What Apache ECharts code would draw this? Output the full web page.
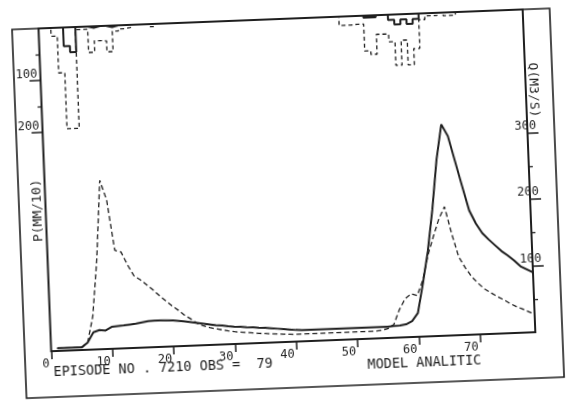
<!DOCTYPE html>
<html>
<head>
<meta charset="utf-8">
<script src="https://cdn.jsdelivr.net/npm/echarts@6/dist/echarts.min.js"></script>
<style>
html, body { margin: 0; padding: 0; background: #fff; overflow: hidden; width: 566px; height: 403px; }
#chart { width: 566px; height: 403px; transform: rotate(-2.25deg); transform-origin: 50% 50%; }
</style>
</head>
<body>
<div id="chart"></div>
<script>
// ---- data ----
// time steps t = 1..79
const qModel = [
  4, 4, 4, 4, 4, 11, 26, 29, 28, 33,
  34, 34.5, 35.5, 36.5, 38, 39.5, 40, 40, 39.5, 39,
  38, 37, 35.5, 34, 32.5, 31, 29.5, 28.5, 27, 26,
  25.5, 24.5, 24, 23, 22.5, 21.5, 20.5, 19.5, 18.5, 17.5,
  17, 17, 17, 17, 17, 17, 17, 17, 17, 17,
  17, 17, 17, 17, 17, 17.5, 18, 19.5, 24, 36,
  80, 128, 190, 265, 318, 300, 262, 224, 187, 167,
  152, 142, 133, 124, 117, 109, 100, 95, 90
];
const qObs = [
  4, 4, 4, 4, 4, 11, 50, 134, 254, 224,
  148, 145, 125, 108, 102, 94, 86, 77, 69, 61,
  54, 46, 40, 33, 29, 26, 24, 22, 20, 18.5,
  17.5, 16.5, 15.5, 14.5, 14, 13, 12.5, 12, 11.5, 11,
  11, 11, 11, 11, 11, 11, 11, 11, 11, 11,
  11, 11, 11, 12, 14, 20, 42, 58, 65, 62,
  85, 122, 150, 176, 194, 153, 118, 101, 87, 77,
  68, 62, 56, 51, 45, 40, 36, 31.5, 27
];
// precipitation per interval [i, i+1), i = 0..78
const pTotal = [
  0, 0, 16, 87, 195, 195, 5, 5, 50, 28,
  29, 50, 11, 7, 5, 0, 0, 0, 5, 0,
  0, 0, 0, 0, 0, 0, 0, 0, 0, 0,
  0, 0, 0, 0, 0, 0, 0, 0, 0, 0,
  0, 0, 0, 0, 0, 0, 0, 0, 0, 17,
  17, 16, 16, 68, 75, 37, 37, 52, 98, 50,
  98, 67, 12, 5, 5, 0, 6, 6, 0, 0,
  0, 0, 0, 0, 0, 0, 0, 0, 0
];
const pEff = [
  0, 0, 0, 0, 36, 48, 0, 0, 3, 0,
  0, 3, 0, 0, 0, 0, 0, 0, 0, 0,
  0, 0, 0, 0, 0, 0, 0, 0, 0, 0,
  0, 0, 0, 0, 0, 0, 0, 0, 0, 0,
  0, 0, 0, 0, 0, 0, 0, 0, 0, 0,
  0, 0, 0, 4, 4, 0, 0, 10, 19, 10,
  19, 10, 0, 0, 0, 0, 0, 0, 0, 0,
  0, 0, 0, 0, 0, 0, 0, 0, 0
];
const xTicks = [0, 10, 20, 30, 40, 50, 60, 70];
const pLabels = [100, 200];
const pMinor = [50, 150];
const qLabels = [100, 200, 300];
const qMinor = [50, 150, 250];
const pTitle = 'P(MM/10)';
const qTitle = 'Q(M3/S)';
const footLeft = 'EPISODE NO . 7210 OBS =  79';
const footRight = 'MODEL ANALITIC';

// ---- chart ----
const INK = '#1f1f1f';
const FONT = "'DejaVu Sans Mono', monospace";
const stepData = arr => arr.map((v, i) => [i, v]).concat([[arr.length, arr[arr.length - 1]]]);
const lineData = arr => arr.map((v, i) => [i + 1, v]);

const chart = echarts.init(document.getElementById('chart'));
const labelStyle = { color: INK, fontFamily: FONT, fontSize: 12 };
const noLine = { show: false, onZero: false };

chart.setOption({
  animation: false,
  backgroundColor: '#fff',
  grid: { left: 45.5, right: 36, top: 19, bottom: 61, show: true, borderColor: INK, borderWidth: 2, backgroundColor: 'transparent' },
  xAxis: {
    type: 'value', position: 'bottom', min: 0, max: 79, interval: 10,
    axisLine: noLine, splitLine: { show: false },
    axisTick: { customValues: xTicks, length: 8, lineStyle: { color: INK, width: 1.5 } },
    axisLabel: Object.assign({ customValues: xTicks, align: 'right', verticalAlign: 'middle', margin: 13, padding: [0, 2, 0, 0] }, labelStyle)
  },
  yAxis: [
    {
      type: 'value', position: 'left', inverse: true, min: 0, max: 621, interval: 50,
      axisLine: noLine, splitLine: { show: false },
      axisTick: { customValues: pLabels, length: 11, lineStyle: { color: INK, width: 1.5 } },
      axisLabel: Object.assign({ customValues: pLabels, margin: 3, verticalAlign: 'bottom', padding: [0, 0, 0, 0] }, labelStyle)
    },
    {
      type: 'value', position: 'left', inverse: true, min: 0, max: 621, interval: 50,
      axisLine: noLine, splitLine: { show: false },
      axisTick: { customValues: pMinor, length: 4, lineStyle: { color: INK, width: 1.3 } },
      axisLabel: { show: false }
    },
    {
      type: 'value', position: 'right', min: 0, max: 486, interval: 50,
      axisLine: noLine, splitLine: { show: false },
      axisTick: { customValues: qLabels, length: 11, lineStyle: { color: INK, width: 1.5 } },
      axisLabel: Object.assign({ customValues: qLabels, align: 'right', margin: 9, verticalAlign: 'bottom', padding: [0, 0, 1, 0] }, labelStyle)
    },
    {
      type: 'value', position: 'right', min: 0, max: 486, interval: 50,
      axisLine: noLine, splitLine: { show: false },
      axisTick: { customValues: qMinor, length: 4, lineStyle: { color: INK, width: 1.3 } },
      axisLabel: { show: false }
    }
  ],
  series: [
    {
      name: 'Q model', type: 'line', yAxisIndex: 2, data: lineData(qModel),
      showSymbol: false, silent: true, z: 4,
      lineStyle: { color: INK, width: 2 }
    },
    {
      name: 'Q obs', type: 'line', yAxisIndex: 2, data: lineData(qObs),
      showSymbol: false, silent: true, z: 3,
      lineStyle: { color: INK, width: 1.3, type: [5, 3] }
    },
    {
      name: 'P total', type: 'line', yAxisIndex: 0, step: 'end', data: stepData(pTotal),
      showSymbol: false, silent: true, z: 3,
      lineStyle: { color: INK, width: 1.3, type: [4, 3] }
    },
    {
      name: 'P eff', type: 'line', yAxisIndex: 0, step: 'end', data: stepData(pEff),
      showSymbol: false, silent: true, z: 4,
      lineStyle: { color: INK, width: 2 }
    }
  ],
  graphic: [
    { type: 'rect', silent: true, shape: { x: 19, y: 19, width: 538, height: 369 },
      style: { fill: 'none', stroke: INK, lineWidth: 1.6 } },
    { type: 'text', silent: true, x: 38, y: 201, rotation: Math.PI / 2,
      style: { text: pTitle, x: 0, y: 0, fill: INK, font: "13px 'DejaVu Sans Mono'", align: 'center', verticalAlign: 'middle' } },
    { type: 'text', silent: true, x: 537, y: 100, rotation: -Math.PI / 2,
      style: { text: qTitle, x: 0, y: 0, fill: INK, font: "13px 'DejaVu Sans Mono'", align: 'center', verticalAlign: 'middle' } },
    { type: 'text', silent: true, x: 47, y: 363,
      style: { text: footLeft, x: 0, y: 0, fill: INK, font: "13.5px 'DejaVu Sans Mono'", align: 'left', verticalAlign: 'middle' } },
    { type: 'text', silent: true, x: 418, y: 368,
      style: { text: footRight, x: 0, y: 0, fill: INK, font: "13.5px 'DejaVu Sans Mono'", align: 'center', verticalAlign: 'middle' } }
  ]
});
</script>
</body>
</html>
